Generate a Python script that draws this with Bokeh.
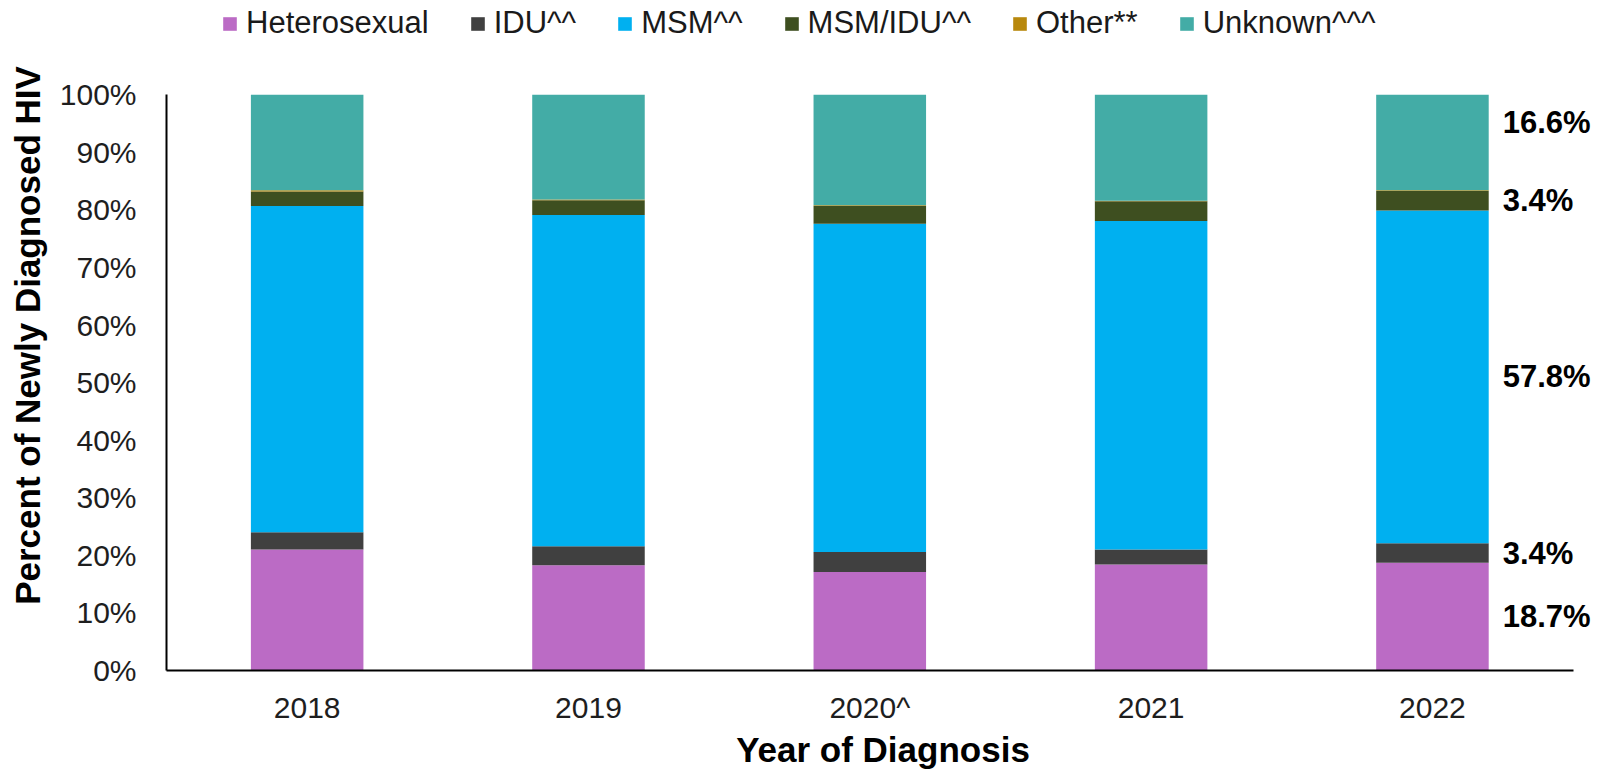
from bokeh.plotting import figure
from bokeh.models import (ColumnDataSource, Range1d, FixedTicker, Legend, LegendItem, LabelSet)
from bokeh.core.properties import value
from bokeh.embed import file_html
from bokeh.resources import INLINE

# ---- data (percent of newly diagnosed HIV by transmission category) ----
years = ["2018", "2019", "2020^", "2021", "2022"]
groups = ["Heterosexual", "IDU^^", "MSM^^", "MSM/IDU^^", "Other**", "Unknown^^^"]
heterosexual = [21.0, 18.3, 17.1, 18.4, 18.7]
idu = [3.0, 3.3, 3.5, 2.6, 3.4]
msm = [56.7, 57.5, 57.0, 57.1, 57.8]
msm_idu = [2.5, 2.6, 3.1, 3.4, 3.4]
other = [0.2, 0.1, 0.1, 0.1, 0.1]
unknown = [16.6, 18.2, 19.2, 18.4, 16.6]
y_ticks = [0, 10, 20, 30, 40, 50, 60, 70, 80, 90, 100]
y_tick_labels = [f"{t}%" for t in y_ticks]
labelled_groups = ["Heterosexual", "IDU^^", "MSM^^", "MSM/IDU^^", "Unknown^^^"]

colors = ["#BB6BC5", "#404040", "#00B0F0", "#3E4F20", "#B8880D", "#43ACA6"]
FONT = "Liberation Sans"

series = [heterosexual, idu, msm, msm_idu, other, unknown]
n = len(years)
xpos = [i + 0.5 for i in range(n)]
data = {"x": xpos}
for g, s in zip(groups, series):
    data[g] = s
source = ColumnDataSource(data)

# layout (pixels)
W, H = 1599, 771
left, right_edge, top, bottom = 166, 1572.6, 95, 675
unit = (right_edge - left) / n          # px per category
pct = (bottom - top) / 100.0            # px per percent
p = figure(width=W, height=H, output_backend="svg", toolbar_location=None,
           x_range=Range1d(0, (W - left) / unit),
           y_range=Range1d(0, 100 + top / pct),
           min_border_left=left, min_border_right=0, min_border_top=0,
           min_border_bottom=H - bottom)
p.outline_line_color = None
p.grid.visible = False
p.background_fill_color = "white"
p.border_fill_color = "white"

rends = p.vbar_stack(groups, x="x", width=0.4, color=colors, source=source, line_width=0)

# axes
p.xaxis.ticker = FixedTicker(ticks=xpos)
p.xaxis.major_label_overrides = {x: y for x, y in zip(xpos, years)}
p.xaxis.bounds = (0, n)
p.yaxis.ticker = FixedTicker(ticks=y_ticks)
p.yaxis.major_label_overrides = {t: l for t, l in zip(y_ticks, y_tick_labels)}
p.yaxis.bounds = (0, 100)
for ax in (p.xaxis[0], p.yaxis[0]):
    ax.axis_line_color = "black"
    ax.axis_line_width = 2
    ax.major_tick_line_color = None
    ax.minor_tick_line_color = None
    ax.major_tick_out = 0
    ax.major_tick_in = 0
    ax.major_label_text_font = FONT
    ax.major_label_text_font_size = "30px"
    ax.major_label_text_color = "#1e1e1e"
    ax.axis_label_text_font = FONT
    ax.axis_label_text_font_style = "bold"
    ax.axis_label_text_font_size = "35px"
    ax.axis_label_text_color = "black"
p.xaxis.axis_label = "Year of Diagnosis"
p.xaxis.major_label_standoff = 20
p.xaxis.axis_label_standoff = 3
p.yaxis.axis_label = "Percent of Newly Diagnosed HIV"
p.yaxis.major_label_standoff = 30
p.yaxis.axis_label_standoff = 10

# value labels for the last year
last = n - 1
lab_y, lab_t, lab_off = [], [], []
cum = 0.0
for g, s in zip(groups, series):
    v = s[last]
    if g in labelled_groups:
        lab_y.append(cum + v / 2)
        lab_t.append(f"{v:.1f}%")
        lab_off.append(20 if g == groups[-1] else 0)
    cum += v
lab_src = ColumnDataSource({"x": [xpos[last] + 0.2] * len(lab_y), "y": lab_y,
                            "t": lab_t, "yo": lab_off})
labels = LabelSet(x="x", y="y", text="t", source=lab_src, x_offset=14, y_offset="yo",
                  text_font=value(FONT), text_font_size="31px", text_font_style="bold",
                  text_color="black", text_align="left", text_baseline="middle")
p.add_layout(labels)

# legend
legend = Legend(items=[LegendItem(label=g, renderers=[r]) for g, r in zip(groups, rends)],
                orientation="horizontal", location=(55, 629),
                glyph_width=17, glyph_height=17, label_standoff=8, spacing=40,
                padding=0, margin=0, border_line_color=None, background_fill_alpha=0,
                label_text_font=FONT, label_text_font_size="31px", label_text_color="#1a1a1a")
p.add_layout(legend, "center")

open("out.html", "w").write(file_html(p, INLINE))
